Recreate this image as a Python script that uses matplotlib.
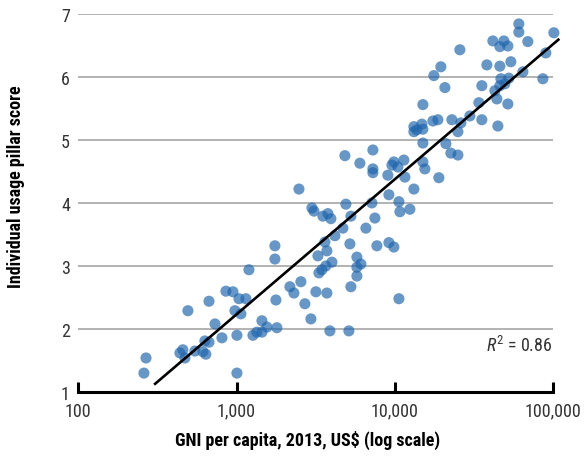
#!/usr/bin/env python3

import matplotlib
matplotlib.use("Agg")
import matplotlib.pyplot as plt
from matplotlib.ticker import FixedLocator, FuncFormatter

plt.rcParams['font.family'] = ['Roboto Condensed', 'Liberation Sans', 'DejaVu Sans']
plt.rcParams['mathtext.fontset'] = 'custom'
plt.rcParams['mathtext.it'] = 'Roboto Condensed:italic'
plt.rcParams['mathtext.rm'] = 'Roboto Condensed'

# GNI per capita (US$) and pillar score
gni = [268, 260, 493, 670, 857, 949, 1036, 1146, 1198, 977,
       1066, 731, 809, 1006, 1006, 631, 670, 439, 458, 472,
       546, 613, 640, 1270, 1345, 1447, 1447, 1556, 1799, 1774,
       1748, 1748,
       2175, 2305, 2551, 2704, 2951, 3174, 3724, 2995, 3083, 2480,
       3268, 3316, 3463, 3670, 4006, 3724, 3618, 4183, 4699, 3514,
       3779, 3947, 4910, 5281, 5205, 5281, 5762, 6106, 5762, 5762,
       3890, 5129, 6569, 7166, 7487, 7709, 9177, 9869, 10617, 9177,
       10617, 10770, 12460,
       4839, 6018, 7271, 7271, 7271, 9043, 9587, 9869, 10462, 11415,
       11582, 13203,
       13203, 13203, 13793, 14834, 15051, 15051, 15051, 15051, 15490, 18990,
       21030, 22620, 25050, 17410, 18720, 22950, 26160, 25050, 29810, 33990,
       35490, 44810, 35490, 42890, 46130, 44160, 51820, 46810, 49610, 52580,
       38180, 46130, 54120, 64480, 86200, 17660, 19550, 20730, 25780, 41660,
       46130, 48900, 51820, 60790, 60790, 69300, 90040, 101200]

score = [1.54, 1.30, 2.29, 2.44, 2.60, 2.59, 2.48, 2.48, 2.94, 2.29,
         2.24, 2.08, 1.86, 1.90, 1.30, 1.81, 1.79, 1.62, 1.67, 1.54,
         1.65, 1.64, 1.60, 1.90, 1.95, 2.13, 1.95, 2.03, 2.02, 2.46,
         3.11, 3.32,
         2.67, 2.57, 2.75, 2.40, 2.16, 2.59, 2.57, 3.92, 3.87, 4.22,
         3.16, 2.89, 2.94, 3.00, 3.06, 3.24, 3.38, 3.48, 3.60, 3.79,
         3.83, 3.75, 3.98, 3.79, 3.35, 2.67, 3.14, 3.03, 2.98, 2.84,
         1.97, 1.97, 3.60, 4.00, 3.76, 3.32, 3.37, 3.30, 2.48, 4.13,
         4.02, 3.86, 3.90,
         4.75, 4.63, 4.84, 4.54, 4.48, 4.44, 4.60, 4.65, 4.57, 4.68,
         4.41, 4.22,
         5.21, 5.13, 5.16, 5.25, 5.17, 5.56, 4.95, 4.65, 4.54, 4.40,
         4.94, 4.79, 4.76, 5.30, 5.32, 5.32, 5.27, 5.13, 5.38, 5.59,
         5.32, 5.22, 5.86, 5.78, 5.86, 5.65, 5.57, 5.97, 5.89, 5.98,
         6.19, 6.17, 6.24, 6.08, 5.97, 6.02, 6.16, 5.83, 6.43, 6.57,
         6.48, 6.57, 6.49, 6.84, 6.71, 6.56, 6.38, 6.70]

# fitted line end points
trend_x = [306, 108000]
trend_y = [1.13, 6.59]

x_ticks = [100, 1000, 10000, 100000]
y_ticks = [1, 2, 3, 4, 5, 6, 7]

fig = plt.figure(figsize=(5.84, 4.64), dpi=100)
ax = fig.add_axes([0.134, 0.153, 0.813, 0.815])

for yv in y_ticks[1:]:
    ax.axhline(yv, color='#a6a6a6', lw=1.2, zorder=1)

ax.scatter(gni, score, s=64, color='#1f66ad', alpha=0.68, edgecolors='none',
           zorder=3, clip_on=False)
ax.plot(trend_x, trend_y, color='black', lw=1.9, zorder=4, clip_on=False)

ax.set_xscale('log')
ax.set_xlim(100, 100000)
ax.set_ylim(1, 7)
ax.xaxis.set_major_locator(FixedLocator(x_ticks))
ax.xaxis.set_minor_locator(FixedLocator([]))
ax.xaxis.set_major_formatter(FuncFormatter(lambda v, p: f"{int(v):,}"))
ax.set_yticks(y_ticks)

for s in ['top', 'right', 'left']:
    ax.spines[s].set_visible(False)
ax.spines['bottom'].set_linewidth(2.2)
ax.spines['bottom'].set_zorder(5)

ax.tick_params(axis='x', direction='in', length=7, width=2.2, pad=7,
               labelsize=13, labelcolor='#333333')
ax.tick_params(axis='y', length=0, pad=6, labelsize=13, labelcolor='#333333')

ax.set_xlabel("GNI per capita, 2013, US$ (log scale)", fontsize=13,
              fontweight='bold')
ax.set_ylabel("Individual usage pillar score", fontsize=13,
              fontweight='bold')
ax.xaxis.set_label_coords(0.483, -0.101)
ax.yaxis.set_label_coords(-0.112, 0.545)

ax.text(100000, 1.75, r"$R^2$ = 0.86", ha='right', va='center',
        fontsize=13, color='#333333')

fig.savefig("out.png", dpi=100)
